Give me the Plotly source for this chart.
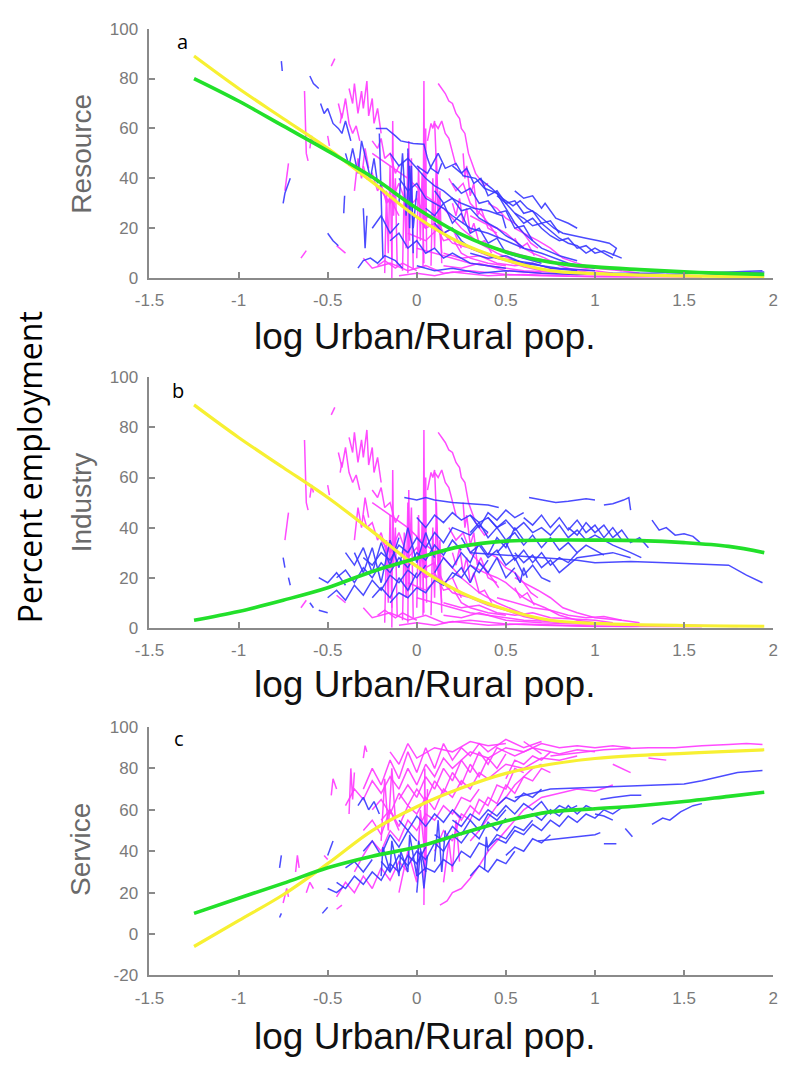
import plotly.graph_objects as go

# ---------------- data ----------------
FIT_X = [-1.25, -1.0, -0.75, -0.5, -0.25, 0.0, 0.25, 0.5, 0.75, 1.0, 1.25, 1.5, 1.75, 1.95]

RES_YELLOW = [89, 76, 64, 52, 38.5, 24.5, 14, 7.3, 3, 1.8, 1.2, 0.9, 0.7, 0.6]
RES_GREEN = [80, 71, 61, 51, 40.5, 28, 17.5, 10.5, 6.4, 4.5, 3.4, 2.5, 1.9, 1.5]
IND_YELLOW = [89, 76, 64, 52, 38.5, 24.5, 14, 7.3, 3, 1.8, 1.2, 0.9, 0.7, 0.6]
IND_GREEN = [3, 6.5, 11, 16, 22.5, 27.8, 32.5, 34.6, 35, 35, 34.8, 34, 32.5, 30]
SER_YELLOW = [-6, 6.5, 19, 34, 50, 61.5, 70.5, 77.6, 82, 84.8, 86.3, 87.3, 88.2, 89]
SER_GREEN = [10, 17.3, 24.5, 32, 37.6, 42, 48.5, 54.6, 59, 60.5, 62, 64, 66.5, 68.5]

# magenta country trajectories (same in panels a and b)
MAG_AB = [
    [(0.12, 78), (0.14, 76), (0.16, 74), (0.18, 71), (0.2, 70), (0.22, 66), (0.24, 64), (0.25, 60), (0.27, 58), (0.28, 54), (0.29, 50), (0.31, 46), (0.33, 42), (0.35, 40), (0.38, 37), (0.40, 38)],
    [(-0.38, 76), (-0.36, 70), (-0.35, 78), (-0.33, 66), (-0.31, 75), (-0.30, 68), (-0.28, 79), (-0.27, 65), (-0.25, 72), (-0.24, 62), (-0.22, 68), (-0.20, 58)],
    [(-0.44, 70), (-0.42, 64), (-0.40, 72), (-0.38, 62), (-0.36, 58), (-0.34, 61), (-0.32, 55)],
    [(-0.63, 75), (-0.625, 62), (-0.62, 50), (-0.61, 47)],
    [(-0.60, 52), (-0.59, 57), (-0.58, 54)],
    [(-0.74, 35), (-0.73, 40), (-0.72, 46)],
    [(-0.48, 85), (-0.46, 88)],
    [(0.035, 5), (0.04, 79), (0.045, 20), (0.05, 60), (0.055, 10)],
    [(-0.14, 0), (-0.135, 63), (-0.13, 25), (-0.12, 40), (-0.11, 5)],
    [(-0.05, 2), (-0.045, 55), (-0.04, 30), (-0.03, 48), (-0.02, 4)],
    [(0.06, 55), (0.08, 62), (0.09, 60), (0.10, 63), (0.11, 45), (0.12, 30), (0.13, 18), (0.14, 10)],
    [(0.10, 62), (0.12, 60), (0.14, 63), (0.16, 58), (0.18, 56), (0.20, 50), (0.22, 45)],
    [(-0.25, 50), (-0.15, 45), (-0.05, 40), (0.05, 33), (0.15, 28), (0.25, 20), (0.35, 14), (0.45, 10), (0.55, 7), (0.65, 4), (0.8, 2)],
    [(0.30, 25), (0.38, 22), (0.45, 20), (0.50, 18), (0.55, 15), (0.60, 12), (0.65, 10), (0.72, 8), (0.80, 5), (0.90, 3), (1.0, 2), (1.1, 1.5), (1.2, 1)],
    [(-0.30, 8), (-0.25, 4), (-0.15, 6), (-0.05, 3), (0.05, 5), (0.15, 2), (0.30, 3), (0.50, 1.5), (0.70, 1), (1.0, 0.5), (1.3, 0.5), (1.6, 0.4)],
    [(0.0, 12), (0.1, 10), (0.2, 8), (0.3, 6), (0.4, 5), (0.5, 4), (0.6, 3), (0.75, 2.5), (0.9, 2), (1.1, 1.5), (1.4, 1), (1.7, 0.8)],
    [(-0.05, 18), (0.05, 15), (0.12, 20), (0.2, 14), (0.3, 12), (0.4, 9), (0.5, 7), (0.6, 4.5), (0.7, 3)],
    [(0.40, 30), (0.45, 28), (0.50, 24), (0.55, 22), (0.60, 18), (0.68, 15), (0.75, 12), (0.82, 8), (0.9, 6), (1.0, 4), (1.15, 3)],
    [(0.18, 40), (0.22, 35), (0.26, 38), (0.30, 30), (0.34, 27), (0.38, 24), (0.42, 20), (0.46, 16)],
    [(-0.65, 8), (-0.62, 11)],
    [(-0.45, 13), (-0.40, 10)],
    [(-0.22, 5), (-0.18, 7), (-0.12, 4), (-0.08, 6), (0.0, 3)],
    [(-0.2, 35), (-0.15, 30), (-0.1, 38), (-0.05, 28), (0.0, 32), (0.05, 24), (0.1, 26), (0.15, 18), (0.2, 20), (0.25, 12)],
    [(0.15, 10), (0.25, 8), (0.35, 9), (0.45, 6), (0.55, 5), (0.65, 6), (0.75, 4), (0.85, 3.5), (1.0, 3), (1.1, 2)],
    [(0.55, 16), (0.58, 12), (0.62, 14), (0.66, 9)],
    [(-0.18, 2), (-0.17, 35), (-0.16, 10), (-0.15, 45), (-0.14, 8)],
    [(-0.08, 3), (-0.07, 38), (-0.06, 12), (-0.05, 50), (-0.04, 15)],
    [(0.0, 8), (0.01, 45), (0.02, 15), (0.03, 42), (0.04, 6)],
    [(0.08, 5), (0.09, 40), (0.10, 12), (0.11, 50), (0.12, 20), (0.13, 35), (0.14, 6)],
    [(0.2, 30), (0.22, 25), (0.24, 32), (0.26, 22), (0.28, 28), (0.3, 18), (0.32, 22), (0.35, 14), (0.38, 15), (0.42, 10)],
    [(0.26, 50), (0.27, 40), (0.28, 45), (0.3, 33), (0.32, 38), (0.34, 25), (0.36, 28), (0.4, 20), (0.45, 18)],
    [(0.55, 20), (0.6, 18), (0.64, 14), (0.68, 12)],
    [(-0.3, 45), (-0.28, 40), (-0.25, 42), (-0.22, 35), (-0.2, 38), (-0.17, 30), (-0.15, 32), (-0.1, 25)],
    [(-0.25, 55), (-0.22, 52), (-0.2, 56), (-0.18, 48), (-0.15, 50), (-0.12, 42), (-0.1, 45)],
    [(-0.1, 1), (0.0, 2), (0.1, 1), (0.2, 2.5), (0.4, 1), (0.6, 1.5), (0.9, 0.8), (1.2, 0.5), (1.5, 1), (1.8, 0.5)],
    [(0.15, 5), (0.25, 4), (0.35, 6), (0.5, 3), (0.7, 2), (0.9, 1.5), (1.2, 1.2), (1.5, 0.6)],
    [(0.0, 25), (0.05, 20), (0.1, 22), (0.15, 15), (0.2, 16), (0.25, 10), (0.3, 8), (0.4, 6), (0.5, 5)],
    [(-0.43, 62), (-0.42, 66)],
    [(-0.50, 57), (-0.49, 53)],
    [(0.45, 12), (0.55, 10), (0.65, 8), (0.75, 7), (0.85, 5), (0.95, 4), (1.05, 4.5), (1.15, 3), (1.25, 2)],
    [(-0.35, 35), (-0.33, 48), (-0.31, 40), (-0.29, 52), (-0.27, 44)],
]

BLUE_A = [
    [(0.35, 40), (0.42, 36), (0.48, 32), (0.54, 29), (0.58, 31), (0.62, 28), (0.67, 26), (0.72, 23), (0.77, 20), (0.82, 18), (0.88, 17), (0.95, 16), (1.02, 15), (1.08, 14), (1.12, 12), (1.10, 9)],
    [(0.45, 33), (0.50, 30), (0.55, 26), (0.60, 24), (0.65, 21), (0.70, 22), (0.75, 19), (0.80, 16), (0.85, 14), (0.90, 13), (0.95, 10), (1.0, 12), (1.05, 10), (1.1, 8)],
    [(-0.23, 60), (-0.17, 60), (-0.12, 57), (-0.09, 55), (-0.02, 54), (0.04, 53.7), (0.06, 48), (0.08, 44), (0.12, 42), (0.14, 46)],
    [(0.0, 45), (0.06, 42), (0.12, 50), (0.16, 44), (0.22, 46), (0.26, 41), (0.33, 40), (0.38, 36), (0.45, 34), (0.5, 28), (0.55, 22), (0.6, 18), (0.7, 12), (0.8, 9), (0.9, 7)],
    [(-0.76, 87), (-0.755, 83)],
    [(-0.60, 81), (-0.58, 78), (-0.55, 76)],
    [(-0.54, 70), (-0.52, 66), (-0.50, 68), (-0.47, 62), (-0.44, 60), (-0.42, 58), (-0.40, 63), (-0.37, 55)],
    [(-0.40, 50), (-0.38, 45), (-0.36, 52), (-0.33, 42), (-0.31, 55), (-0.28, 46), (-0.26, 40), (-0.24, 48), (-0.22, 38)],
    [(-0.41, 26), (-0.405, 33)],
    [(-0.75, 30), (-0.74, 34), (-0.72, 38), (-0.71, 40)],
    [(-0.50, 18), (-0.47, 15), (-0.44, 13)],
    [(-0.33, 4), (-0.30, 7), (-0.26, 8), (-0.22, 6), (-0.18, 9), (-0.12, 7), (-0.08, 4)],
    [(-0.21, 58), (-0.20, 30), (-0.19, 8)],
    [(-0.1, 40), (-0.05, 35), (0.0, 38), (0.05, 32), (0.1, 30), (0.15, 28), (0.2, 25), (0.3, 20), (0.4, 18), (0.5, 15), (0.6, 12), (0.7, 10), (0.85, 6), (1.0, 4)],
    [(0.0, 5), (0.1, 3), (0.2, 4), (0.35, 2), (0.5, 3), (0.7, 2), (0.9, 1.5), (1.1, 2), (1.3, 2), (1.5, 2.5), (1.7, 1.5), (1.95, 2.5)],
    [(0.1, 22), (0.15, 18), (0.2, 20), (0.25, 15), (0.3, 12), (0.38, 10), (0.45, 8), (0.55, 7), (0.65, 6), (0.75, 4), (0.9, 3)],
    [(-0.15, 50), (-0.1, 45), (-0.05, 48), (0.0, 44), (0.05, 40), (0.1, 37), (0.15, 35), (0.2, 32), (0.25, 30), (0.32, 28), (0.4, 27), (0.48, 25), (0.5, 20)],
    [(-0.05, 52), (-0.04, 20), (-0.03, 45), (-0.02, 10)],
    [(0.2, 38), (0.25, 34), (0.3, 36), (0.35, 30), (0.4, 31), (0.45, 26), (0.5, 27), (0.55, 20), (0.6, 21), (0.65, 15)],
    [(0.55, 35), (0.6, 32), (0.65, 33), (0.7, 28), (0.72, 30), (0.78, 24), (0.85, 22), (0.9, 20)],
    [(-0.1, 30), (-0.08, 50), (-0.06, 25), (-0.04, 45), (-0.02, 20), (0.0, 35)],
    [(0.05, 28), (0.1, 25), (0.15, 30), (0.2, 22), (0.25, 26), (0.3, 18), (0.35, 20), (0.4, 14), (0.45, 16), (0.5, 10), (0.6, 8), (0.7, 6)],
    [(0.2, 45), (0.25, 42), (0.28, 44), (0.32, 38), (0.36, 40), (0.4, 33), (0.45, 35), (0.5, 30), (0.55, 31), (0.6, 26), (0.65, 27), (0.7, 22), (0.75, 23), (0.8, 18)],
    [(0.55, 26), (0.6, 22), (0.65, 24), (0.7, 20), (0.75, 17), (0.8, 15), (0.85, 16), (0.9, 12), (0.95, 13), (1.0, 10), (1.05, 11), (1.15, 8)],
    [(-0.15, 15), (-0.1, 18), (-0.05, 12), (0.0, 15), (0.05, 10), (0.1, 12), (0.15, 8), (0.2, 10), (0.3, 6), (0.4, 5), (0.5, 4)],
    [(-0.25, 20), (-0.2, 25), (-0.15, 18), (-0.1, 22)],
    [(0.1, 35), (0.15, 30), (0.2, 32), (0.25, 27), (0.3, 28), (0.35, 24), (0.4, 22), (0.45, 20), (0.5, 17), (0.55, 15), (0.6, 12)],
    [(-0.3, 28), (-0.29, 12), (-0.28, 25)],
    [(0.3, 10), (0.4, 8), (0.5, 9), (0.6, 6), (0.7, 5), (0.8, 4), (0.9, 3.5), (1.0, 3)],
    [(1.4, 1.5), (1.6, 2), (1.8, 2.8), (1.94, 3)],
]

BLUE_B = [
    [(0.63, 52), (0.70, 51), (0.78, 50), (0.85, 50.5), (0.95, 51.5), (1.0, 51)],
    [(1.05, 49), (1.10, 49.5), (1.16, 51), (1.19, 52), (1.20, 47)],
    [(0.3, 30), (0.5, 29), (0.7, 28), (0.9, 27), (1.0, 26), (1.2, 26.5), (1.4, 26), (1.6, 25.5), (1.75, 25), (1.85, 21), (1.94, 18)],
    [(1.32, 43), (1.36, 39), (1.40, 40), (1.45, 37), (1.5, 37.5), (1.55, 36.5), (1.59, 34)],
    [(0.3, 38), (0.35, 42), (0.4, 36), (0.45, 40), (0.5, 35), (0.55, 38), (0.6, 33), (0.65, 37), (0.7, 32), (0.75, 36), (0.8, 31), (0.85, 34), (0.9, 30), (0.95, 33), (1.0, 31), (1.05, 29)],
    [(0.4, 44), (0.45, 40), (0.5, 43), (0.55, 39), (0.6, 42), (0.65, 38), (0.7, 40), (0.75, 37), (0.8, 41), (0.85, 36), (0.9, 39), (0.95, 35), (1.0, 37), (1.1, 33), (1.2, 30), (1.26, 28)],
    [(0.25, 36), (0.3, 30), (0.35, 33), (0.4, 28), (0.45, 31), (0.5, 25), (0.55, 28), (0.6, 21), (0.65, 25), (0.7, 20), (0.75, 18.4)],
    [(-0.45, 20), (-0.4, 23), (-0.35, 18), (-0.3, 24), (-0.25, 20), (-0.2, 26), (-0.15, 22), (-0.1, 28), (-0.05, 24), (0.0, 30), (0.05, 27), (0.1, 33), (0.15, 29), (0.2, 35), (0.25, 31)],
    [(-0.5, 12), (-0.45, 15), (-0.4, 11), (-0.35, 17), (-0.3, 13), (-0.25, 19), (-0.2, 15), (-0.15, 21), (-0.1, 18), (-0.05, 23), (0.0, 20), (0.05, 25)],
    [(-0.3, 28), (-0.25, 25), (-0.2, 30), (-0.15, 27), (-0.1, 33), (-0.05, 30), (0.0, 36), (0.05, 32), (0.1, 38), (0.15, 34), (0.2, 40), (0.3, 37), (0.35, 41), (0.4, 38)],
    [(-0.15, 10), (-0.1, 14), (-0.05, 12), (0.0, 16), (0.05, 14), (0.1, 19), (0.15, 17), (0.2, 22), (0.25, 20), (0.3, 25), (0.35, 22), (0.4, 27)],
    [(0.0, 44), (0.05, 40), (0.1, 45), (0.15, 42), (0.2, 46), (0.25, 43), (0.3, 45), (0.35, 42), (0.4, 44), (0.45, 40), (0.5, 42)],
    [(-0.75, 28), (-0.74, 24)],
    [(-0.72, 20), (-0.71, 17)],
    [(-0.6, 10), (-0.58, 8)],
    [(-0.55, 7), (-0.5, 6)],
    [(-0.07, 52), (0.0, 51), (0.05, 52), (0.1, 51), (0.2, 50), (0.3, 49.5), (0.4, 49), (0.46, 48)],
    [(0.85, 40), (0.9, 37), (0.95, 42), (1.0, 38), (1.05, 41), (1.1, 36), (1.15, 39), (1.2, 34), (1.25, 36), (1.3, 32)],
    [(0.55, 30), (0.6, 26), (0.65, 29), (0.7, 24), (0.75, 27), (0.8, 22), (0.85, 25), (0.9, 28), (1.0, 29), (1.1, 30), (1.2, 28)],
    [(-0.35, 30), (-0.3, 22), (-0.25, 32), (-0.2, 18), (-0.15, 35), (-0.1, 24), (-0.05, 40), (0.0, 26), (0.05, 38), (0.1, 28)],
    [(-0.4, 30), (-0.35, 25), (-0.3, 32), (-0.25, 22), (-0.2, 34), (-0.15, 25), (-0.1, 36)],
    [(0.1, 22), (0.15, 28), (0.2, 24), (0.25, 30), (0.3, 26), (0.35, 34), (0.4, 29), (0.45, 36), (0.5, 32), (0.55, 40), (0.6, 35)],
    [(0.6, 44), (0.65, 41), (0.7, 45), (0.75, 40), (0.8, 44), (0.85, 39), (0.9, 43), (0.95, 38), (1.0, 41), (1.05, 36), (1.1, 40), (1.15, 35)],
    [(0.45, 30), (0.5, 34), (0.55, 27), (0.6, 31), (0.65, 26), (0.7, 30), (0.75, 25), (0.8, 28), (0.85, 26), (0.9, 30)],
    [(0.2, 20), (0.25, 24), (0.3, 18), (0.35, 26), (0.4, 22), (0.45, 28), (0.5, 20), (0.55, 24)],
    [(-0.25, 12), (-0.2, 16), (-0.15, 12), (-0.1, 20), (-0.05, 15), (0.0, 22)],
    [(-0.55, 20), (-0.5, 18), (-0.45, 22), (-0.4, 17)],
    [(0.55, 22), (0.58, 18), (0.6, 24), (0.62, 20)],
    [(0.3, 45), (0.35, 40), (0.4, 46), (0.45, 43), (0.5, 47), (0.55, 44), (0.6, 46)],
]

MAG_C = [
    [(0.75, 86), (0.85, 87), (0.95, 88), (1.05, 89), (1.15, 89.5), (1.3, 90), (1.45, 90), (1.6, 91), (1.75, 91.5), (1.85, 92), (1.94, 91.5)],
    [(1.10, 82), (1.15, 80), (1.20, 78)],
    [(1.30, 85), (1.35, 84.5), (1.40, 84)],
    [(0.13, 14), (0.17, 16), (0.2, 20), (0.25, 22), (0.3, 27), (0.35, 33), (0.4, 40), (0.45, 45), (0.5, 50), (0.55, 55), (0.6, 60), (0.65, 63), (0.7, 66), (0.8, 68), (0.9, 70), (1.0, 69), (1.1, 72)],
    [(0.04, 14), (0.045, 80), (0.05, 30), (0.06, 70)],
    [(-0.3, 70), (-0.25, 80), (-0.2, 72), (-0.15, 84), (-0.1, 75), (-0.05, 88), (0.0, 78), (0.05, 90), (0.1, 80), (0.15, 92), (0.2, 84), (0.25, 90), (0.3, 86), (0.35, 92), (0.4, 88), (0.5, 94), (0.6, 90), (0.7, 93)],
    [(-0.4, 62), (-0.35, 70), (-0.3, 65), (-0.25, 74), (-0.2, 68), (-0.15, 76), (-0.1, 70), (-0.05, 80), (0.0, 72), (0.05, 82), (0.1, 76), (0.15, 85), (0.2, 80), (0.3, 88), (0.4, 85), (0.5, 90), (0.6, 88), (0.7, 92), (0.8, 90), (0.9, 91), (1.0, 90), (1.1, 91), (1.2, 90)],
    [(-0.2, 55), (-0.15, 60), (-0.1, 52), (-0.05, 62), (0.0, 58), (0.05, 66), (0.1, 60), (0.15, 70), (0.2, 66), (0.25, 74), (0.3, 70), (0.35, 78), (0.4, 75), (0.5, 82), (0.6, 80), (0.7, 85), (0.8, 84), (0.9, 86)],
    [(-0.35, 30), (-0.3, 38), (-0.25, 45), (-0.2, 40), (-0.15, 50), (-0.1, 45), (-0.05, 55), (0.0, 50), (0.05, 58), (0.1, 55), (0.15, 62), (0.2, 58), (0.25, 66), (0.3, 64), (0.35, 70)],
    [(-0.45, 18), (-0.4, 25), (-0.35, 20), (-0.3, 28), (-0.25, 22), (-0.2, 32), (-0.15, 26), (-0.1, 35), (-0.05, 30)],
    [(-0.75, 15), (-0.73, 22), (-0.72, 18)],
    [(-0.68, 30), (-0.67, 38), (-0.66, 32)],
    [(-0.62, 20), (-0.60, 25), (-0.58, 22)],
    [(-0.52, 38), (-0.50, 36)],
    [(-0.45, 12), (-0.42, 14)],
    [(-0.48, 67), (-0.47, 75), (-0.45, 70)],
    [(-0.30, 85), (-0.29, 91), (-0.28, 88)],
    [(-0.38, 58), (-0.37, 80), (-0.36, 65), (-0.35, 78)],
    [(0.3, 45), (0.35, 50), (0.4, 56), (0.45, 62), (0.5, 66), (0.55, 72), (0.6, 76), (0.65, 80), (0.7, 82)],
    [(0.6, 93), (0.65, 90), (0.7, 87)],
    [(-0.1, 20), (-0.05, 40), (0.0, 25), (0.02, 60), (0.05, 35)],
    [(0.1, 40), (0.15, 50), (0.2, 45), (0.25, 58), (0.3, 55), (0.35, 65), (0.4, 62), (0.45, 72), (0.5, 70), (0.55, 80), (0.6, 78)],
    [(-0.15, 88), (-0.1, 82), (-0.05, 92), (0.0, 85), (0.1, 90), (0.2, 88), (0.3, 93), (0.4, 91), (0.5, 92)],
    [(-0.25, 60), (-0.2, 65), (-0.15, 58), (-0.1, 68), (-0.05, 62), (0.0, 70), (0.05, 64), (0.1, 74), (0.15, 68), (0.2, 78), (0.25, 72), (0.3, 82), (0.35, 76), (0.4, 85), (0.45, 80), (0.5, 87)],
    [(-0.1, 65), (-0.05, 72), (0.0, 66), (0.05, 76), (0.1, 70), (0.15, 80), (0.2, 74), (0.25, 84), (0.3, 78), (0.35, 88), (0.4, 82), (0.45, 90), (0.55, 86), (0.65, 90), (0.75, 88)],
    [(0.2, 60), (0.25, 55), (0.3, 62), (0.35, 58), (0.4, 66), (0.45, 63), (0.5, 72), (0.55, 68), (0.6, 76), (0.65, 74), (0.7, 80), (0.75, 78)],
    [(-0.2, 45), (-0.18, 75), (-0.16, 50), (-0.14, 80), (-0.12, 55)],
    [(0.15, 25), (0.18, 45), (0.2, 30), (0.22, 55), (0.24, 35)],
    [(-0.3, 50), (-0.25, 55), (-0.2, 48), (-0.15, 60), (-0.1, 50)],
    [(0.5, 75), (0.55, 84), (0.6, 82), (0.65, 86), (0.7, 84), (0.75, 88), (0.8, 87), (0.9, 89), (1.0, 88)],
]

BLUE_C = [
    [(0.55, 66), (0.65, 68), (0.75, 70), (0.9, 70.5), (1.05, 71), (1.2, 71.5), (1.35, 72), (1.5, 72.5), (1.6, 74), (1.7, 76), (1.8, 78), (1.94, 79)],
    [(1.32, 53), (1.38, 56), (1.42, 55), (1.48, 59), (1.55, 62), (1.60, 63)],
    [(0.68, 45), (0.8, 46), (0.9, 47), (1.0, 48), (1.03, 49)],
    [(1.05, 43.6), (1.12, 43.6)],
    [(1.17, 51), (1.21, 47)],
    [(1.03, 65), (1.1, 66), (1.2, 67), (1.26, 67)],
    [(1.0, 58), (1.05, 57), (1.1, 55)],
    [(-0.33, 62), (-0.30, 66), (-0.27, 60), (-0.24, 64), (-0.21, 58)],
    [(-0.45, 25), (-0.4, 22), (-0.35, 28), (-0.3, 24), (-0.25, 30), (-0.2, 26), (-0.15, 34), (-0.1, 30), (-0.05, 38), (0.0, 34), (0.05, 42)],
    [(-0.2, 35), (-0.15, 30), (-0.1, 38), (-0.05, 33), (0.0, 40), (0.05, 36), (0.1, 44), (0.15, 40), (0.2, 48), (0.25, 44), (0.3, 50), (0.35, 46), (0.4, 54), (0.45, 50), (0.5, 56)],
    [(0.0, 28), (0.05, 32), (0.1, 30), (0.15, 36), (0.2, 33), (0.25, 40), (0.3, 37), (0.35, 44), (0.4, 42), (0.45, 48), (0.5, 46), (0.55, 52), (0.6, 50), (0.65, 55)],
    [(0.2, 55), (0.25, 52), (0.3, 58), (0.35, 55), (0.4, 60), (0.45, 57), (0.5, 62), (0.55, 58), (0.6, 63), (0.65, 60), (0.7, 64), (0.75, 58), (0.8, 62), (0.85, 60), (0.9, 62)],
    [(0.4, 42), (0.45, 46), (0.5, 44), (0.55, 50), (0.6, 48), (0.65, 53), (0.7, 50), (0.75, 55), (0.8, 52), (0.85, 57), (0.9, 54), (0.95, 58), (1.0, 56), (1.05, 60), (1.1, 58), (1.15, 61)],
    [(-0.2, 28), (-0.19, 42), (-0.15, 30), (-0.14, 45), (-0.1, 28), (-0.09, 40), (-0.05, 30), (-0.04, 48), (0.0, 28), (0.01, 45), (0.05, 30)],
    [(-0.1, 55), (-0.05, 50), (0.0, 57), (0.05, 52), (0.1, 58), (0.15, 54), (0.2, 60), (0.25, 56)],
    [(0.45, 62), (0.5, 66), (0.55, 64), (0.6, 68), (0.65, 66), (0.7, 70)],
    [(0.38, 31), (0.39, 47), (0.40, 40)],
    [(-0.77, 32), (-0.76, 38)],
    [(-0.77, 8), (-0.76, 10)],
    [(-0.53, 10), (-0.50, 13)],
    [(-0.50, 38), (-0.47, 45)],
    [(-0.5, 22), (-0.45, 20), (-0.41, 23)],
    [(0.1, 35), (0.12, 55), (0.14, 30), (0.16, 50)],
    [(0.5, 38), (0.55, 42), (0.6, 40), (0.65, 46), (0.7, 44), (0.75, 48)],
    [(-0.3, 40), (-0.25, 45), (-0.2, 38), (-0.15, 48), (-0.1, 42), (-0.05, 50), (0.0, 45)],
    [(0.1, 48), (0.15, 45), (0.2, 52), (0.25, 48), (0.3, 55), (0.35, 50), (0.4, 58), (0.45, 55), (0.5, 60)],
    [(0.6, 56), (0.65, 58), (0.7, 55), (0.75, 60), (0.8, 57), (0.85, 62), (0.9, 58), (0.95, 62), (1.0, 60)],
    [(0.0, 20), (0.02, 40), (0.04, 22), (0.06, 38)],
    [(-0.4, 32), (-0.35, 35), (-0.3, 30), (-0.25, 36)],
    [(0.3, 28), (0.35, 33), (0.4, 30), (0.45, 36), (0.5, 34), (0.55, 40)],
]

X_TICKS = [-1.5, -1, -0.5, 0, 0.5, 1, 1.5, 2]
X_TICK_TEXT = ["-1.5", "-1", "-0.5", "0", "0.5", "1", "1.5", "2"]
Y_TICKS_AB = [0, 20, 40, 60, 80, 100]
Y_TICKS_C = [-20, 0, 20, 40, 60, 80, 100]

PANEL_TITLES = ["Resource", "Industry", "Service"]
PANEL_LETTERS = ["a", "b", "c"]
X_TITLE = "log Urban/Rural pop."
COMMON_Y_TITLE = "Percent employment"

# ---------------- figure ----------------
W, H = 785, 1068
MAGENTA = "rgba(255,60,255,0.92)"
BLUE = "rgba(55,55,255,0.9)"
YELLOW = "#f7f032"
GREEN = "#22e02a"

# pixel boxes of the three plot areas (left, right, top, bottom)
X_LEFT, X_RIGHT = 138, 778
BOXES = [(20, 274), (375, 630), (731, 984)]


def join(traces):
    xs, ys = [], []
    for t in traces:
        for x, y in t:
            xs.append(x)
            ys.append(y)
        xs.append(None)
        ys.append(None)
    return xs, ys


fig = go.Figure()
panels = [
    (MAG_AB, BLUE_A, RES_YELLOW, RES_GREEN, [0, 100], Y_TICKS_AB),
    (MAG_AB, BLUE_B, IND_YELLOW, IND_GREEN, [0, 100], Y_TICKS_AB),
    (MAG_C, BLUE_C, SER_YELLOW, SER_GREEN, [-20, 100], Y_TICKS_C),
]

axis_common = dict(
    showline=True, linecolor="#8a8a8a", linewidth=1.8,
    ticks="inside", ticklen=6, tickwidth=1.5, tickcolor="#8a8a8a",
    showgrid=False, zeroline=False, mirror=False,
    tickfont=dict(family="Liberation Sans, Arial, sans-serif", size=17, color="#7a7a7a"),
)

for i, (mag, blue, yel, grn, yr, yt) in enumerate(panels):
    k = "" if i == 0 else str(i + 1)
    xa, ya = "x" + k, "y" + k
    top, bot = BOXES[i]
    mx, my = join(mag)
    bx, by = join(blue)
    fig.add_trace(go.Scatter(x=mx, y=my, mode="lines", line=dict(color=MAGENTA, width=1.5),
                             xaxis=xa, yaxis=ya, showlegend=False, hoverinfo="skip"))
    fig.add_trace(go.Scatter(x=bx, y=by, mode="lines", line=dict(color=BLUE, width=1.5),
                             xaxis=xa, yaxis=ya, showlegend=False, hoverinfo="skip"))
    fig.add_trace(go.Scatter(x=FIT_X, y=yel, mode="lines", line=dict(color=YELLOW, width=3.2, shape="spline"),
                             xaxis=xa, yaxis=ya, showlegend=False, hoverinfo="skip"))
    fig.add_trace(go.Scatter(x=FIT_X, y=grn, mode="lines", line=dict(color=GREEN, width=3.6, shape="spline"),
                             xaxis=xa, yaxis=ya, showlegend=False, hoverinfo="skip"))

    fig.layout["xaxis" + k] = dict(
        axis_common, domain=[X_LEFT / W, X_RIGHT / W], range=[-1.5, 2],
        tickvals=X_TICKS, ticktext=X_TICK_TEXT, anchor=ya, ticklabelstandoff=6,
    )
    fig.layout["yaxis" + k] = dict(
        axis_common, domain=[1 - bot / H, 1 - top / H], range=yr,
        tickvals=yt, ticktext=[str(v) for v in yt], anchor=xa, ticklabelstandoff=6,
    )

annotations = []
ytitle_centers = [147, 502, 856]
xtitle_centers = [333, 688, 1046]
letter_pos = [(172, 33), (167, 388), (168, 743)]
for i in range(3):
    annotations.append(dict(
        x=68 / W, y=1 - ytitle_centers[i] / H, xref="paper", yref="paper",
        text=PANEL_TITLES[i], textangle=-90, showarrow=False,
        xanchor="center", yanchor="middle",
        font=dict(family="Liberation Sans, Arial, sans-serif", size=28, color="#6a6a6a"),
    ))
    annotations.append(dict(
        x=420 / W, y=1 - xtitle_centers[i] / H, xref="paper", yref="paper",
        text=X_TITLE, showarrow=False, xanchor="center", yanchor="middle",
        font=dict(family="Liberation Sans, Arial, sans-serif", size=37, color="#111111"),
    ))
    lx, ly = letter_pos[i]
    annotations.append(dict(
        x=lx / W, y=1 - ly / H, xref="paper", yref="paper",
        text=PANEL_LETTERS[i], showarrow=False, xanchor="center", yanchor="middle",
        font=dict(family="Open Sans, sans-serif", size=20, color="#000000"),
    ))
annotations.append(dict(
    x=15 / W, y=1 - 467 / H, xref="paper", yref="paper",
    text=COMMON_Y_TITLE, textangle=-90, showarrow=False,
    xanchor="center", yanchor="middle",
    font=dict(family="Open Sans, sans-serif", size=32, color="#000000"),
))

fig.update_layout(
    width=W, height=H, margin=dict(l=0, r=0, t=0, b=0),
    paper_bgcolor="white", plot_bgcolor="white",
    annotations=annotations,
)

fig.write_html("out.html")
